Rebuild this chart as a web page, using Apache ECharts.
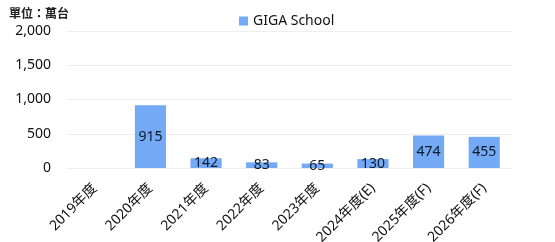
<!DOCTYPE html>
<html><head><meta charset="utf-8">
<script src="https://cdn.jsdelivr.net/npm/echarts@6/dist/echarts.min.js"></script>
<style>html,body{margin:0;padding:0;background:#fff}#c{width:555px;height:242px}</style>
</head><body><div id="c"></div>
<script>
const categories = ['2019年度','2020年度','2021年度','2022年度','2023年度','2024年度(E)','2025年度(F)','2026年度(F)'];
const seriesName = 'GIGA School';
const values = [null, 915, 142, 83, 65, 130, 474, 455];
const yTicks = [0, 500, 1000, 1500, 2000];
const unitText = '單位：萬台';

const font = '"Noto Sans", "Noto Sans CJK TC", sans-serif';
const chart = echarts.init(document.getElementById('c'));
chart.setOption({
  animation: false,
  textStyle: { fontFamily: font },
  title: { text: unitText, left: 4, top: 4, textStyle: { fontSize: 12, fontWeight: 'bold', color: '#222', fontFamily: font } },
  legend: { top: 9, left: 234, itemWidth: 9, itemHeight: 9, itemGap: 5, icon: 'rect',
    textStyle: { fontSize: 14, color: '#111', fontFamily: font } },
  grid: { left: 67, right: 43, top: 31, bottom: 74, containLabel: false, outerBoundsMode: 'none' },
  xAxis: { type: 'category', data: categories,
    axisLine: { show: false }, axisTick: { show: false },
    axisLabel: { rotate: 45, fontSize: 14, color: '#111', margin: 18, interval: 0, fontFamily: font } },
  yAxis: { type: 'value', min: yTicks[0], max: yTicks[yTicks.length-1], interval: 500,
    axisLine: { show: false }, axisTick: { show: false },
    splitLine: { lineStyle: { color: '#eeeeee', width: 1 } },
    axisLabel: { fontSize: 14, color: '#111', margin: 16, fontFamily: font,
      formatter: v => v.toLocaleString('en-US') } },
  series: [{ name: seriesName, type: 'bar', data: values, barWidth: '56%',
    itemStyle: { color: '#73a9f5' },
    label: { show: true, position: 'inside', fontSize: 14, color: '#0d1a2a', fontFamily: font } }]
});
</script></body></html>
